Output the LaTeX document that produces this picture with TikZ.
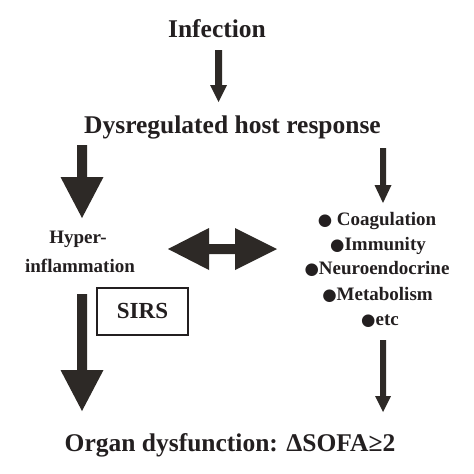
\documentclass[tikz,border=0pt]{standalone}
\usepackage{fontspec}
\setmainfont{Liberation Serif}
\newfontfamily\dejavu{DejaVu Sans}
\definecolor{ink}{RGB}{35,31,32}
\definecolor{arrowc}{RGB}{45,41,38}
\newcommand\bul{{\dejavu\fontsize{16.5}{16}\selectfont ●}}
\newcommand\vblockarrow[6]{%
  \fill[arrowc] ({#1-#4/2},#2) -- ({#1+#4/2},#2) -- ({#1+#4/2},{#3-#6}) -- ({#1+#5/2},{#3-#6}) -- (#1,#3) -- ({#1-#5/2},{#3-#6}) -- ({#1-#4/2},{#3-#6}) -- cycle;}
\begin{document}
\begin{tikzpicture}[x=1pt,y=-1pt,
  big/.style={font=\bfseries\fontsize{25.5}{30}\selectfont, text=ink, inner sep=0pt, anchor=base},
  small/.style={font=\bfseries\fontsize{19}{22}\selectfont, text=ink, inner sep=0pt, anchor=base},
  sirs/.style={draw=ink, line width=1.3pt, minimum width=91pt, minimum height=47pt, inner sep=0pt}]
\useasboundingbox (0,0) rectangle (474,474);
\fill[white] (0,0) rectangle (474,474);
% texts
\node[big] (inf) at (217,37) {Infection};
\node[big] (dys) at (232.5,133) {Dysregulated host response};
\node[big] (org) at (230,451.5) {Organ dysfunction: ΔSOFA≥2};
\node[small] (hyp1) at (78,243) {Hyper-};
\node[small] (hyp2) at (80,272) {inflammation};
\node[sirs] (sirsbox) at (142.5,311.5) {};
\node[font=\bfseries\fontsize{23}{26}\selectfont, text=ink, inner sep=0pt, anchor=base] (sirs) at (142.5,318) {SIRS};
\node[small] (l1) at (377,225) {\bul\ Coagulation};
\node[small] (l2) at (378,250) {\bul Immunity};
\node[small] (l3) at (377,274) {\bul Neuroendocrine};
\node[small] (l4) at (377.5,300) {\bul Metabolism};
\node[small] (l5) at (380,325) {\bul etc};
% arrows
\vblockarrow{218.5}{50}{102}{7}{17}{17}
\vblockarrow{82}{145}{218}{10}{43}{41}
\vblockarrow{383}{148}{203}{6}{17}{18}
\vblockarrow{82}{294}{411}{10}{43}{41}
\vblockarrow{383}{340}{412}{6}{16}{16}
\fill[arrowc] (168,249) -- (209,228) -- (209,244) -- (235,244) -- (235,228) -- (277,249) -- (235,270) -- (235,254) -- (209,254) -- (209,270) -- cycle;
\end{tikzpicture}
\end{document}
